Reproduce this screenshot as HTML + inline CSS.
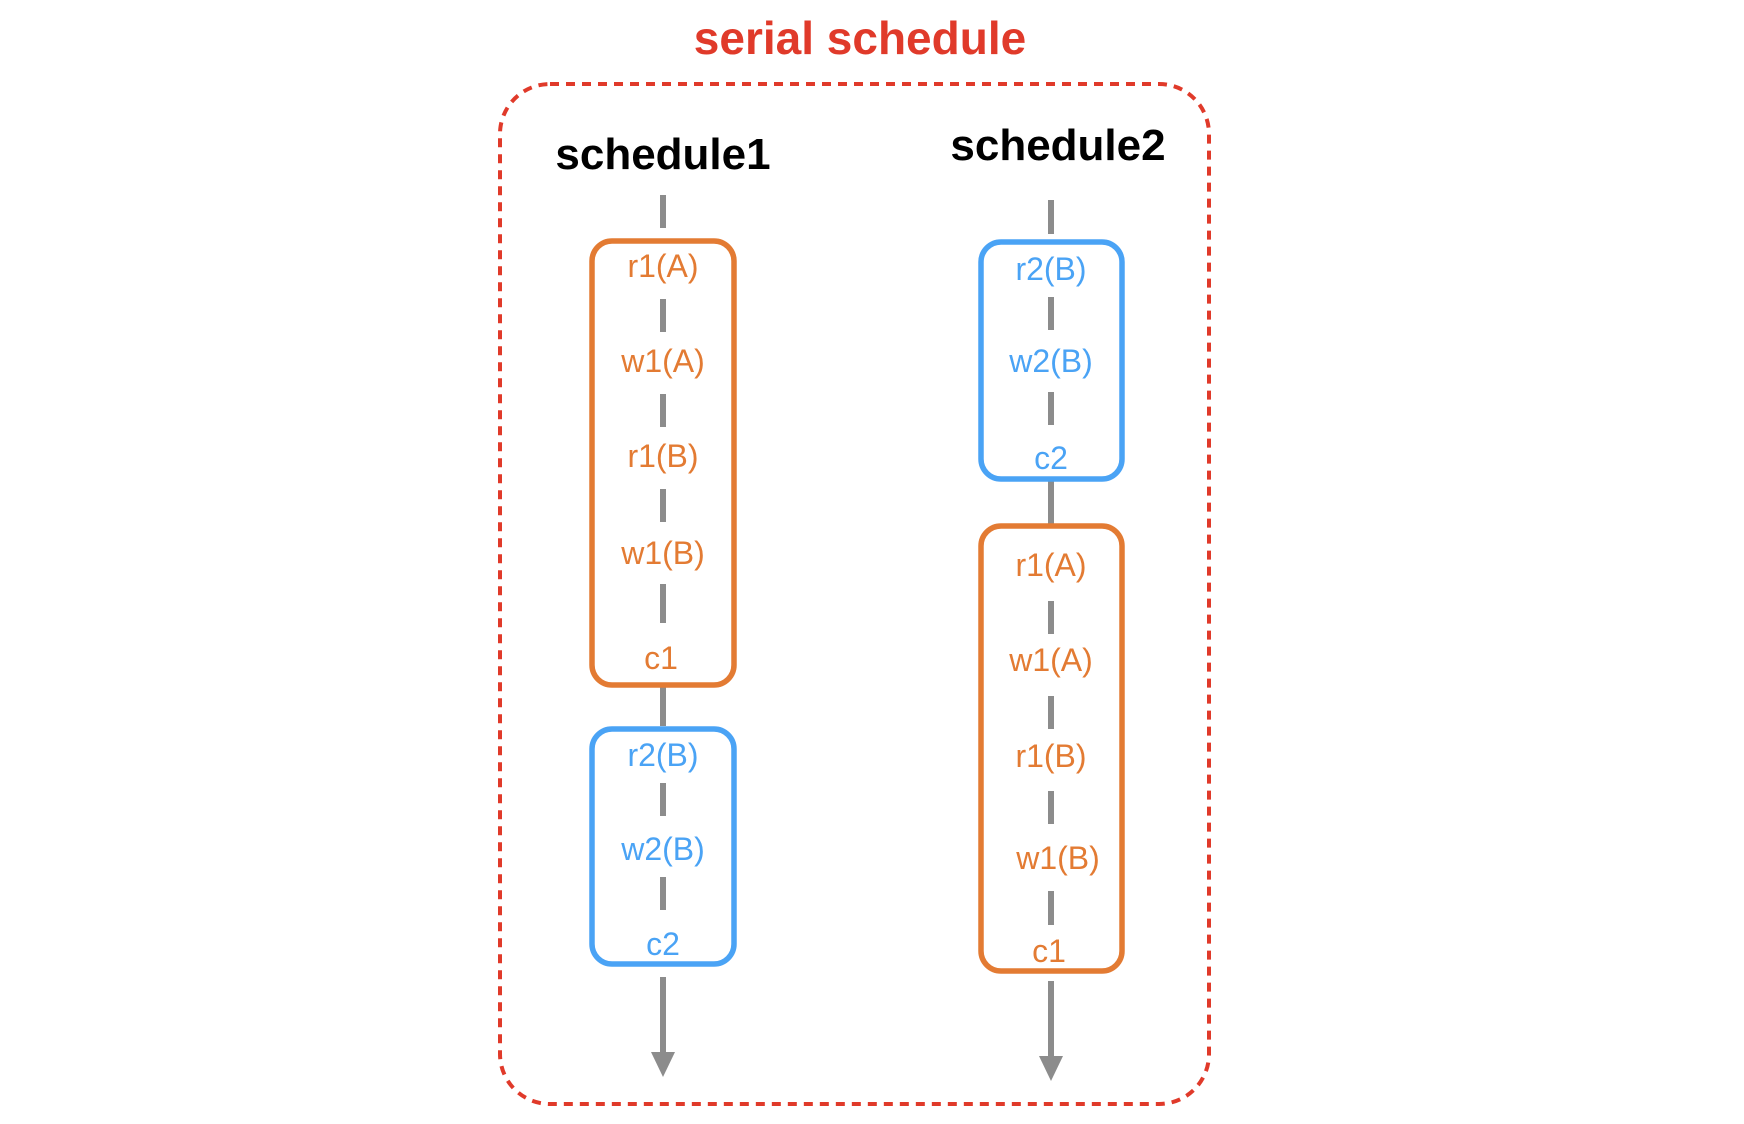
<!DOCTYPE html>
<html><head><meta charset="utf-8"><style>
html,body{margin:0;padding:0;background:#fff;}
svg{display:block;}
text{font-family:"Liberation Sans",Arial,sans-serif;}
</style></head><body>
<svg width="1744" height="1124" viewBox="0 0 1744 1124" xmlns="http://www.w3.org/2000/svg">
<text x="860" y="54" text-anchor="middle" font-size="46" font-weight="bold" fill="#e03a2a">serial schedule</text>
<rect x="500" y="84" width="709" height="1020" rx="50" ry="50" fill="none" stroke="#e03a2a" stroke-width="4" stroke-dasharray="9 7"/>
<g transform="translate(-4,-3)">
<text x="667" y="172" text-anchor="middle" font-size="44" font-weight="bold" fill="#000">schedule1</text>
<text x="1062" y="163" text-anchor="middle" font-size="44" font-weight="bold" fill="#000">schedule2</text>

<g stroke="#8c8c8c" stroke-width="6">
<line x1="667" y1="198" x2="667" y2="231"/>
<line x1="667" y1="302" x2="667" y2="335"/>
<line x1="667" y1="397" x2="667" y2="430"/>
<line x1="667" y1="492" x2="667" y2="525"/>
<line x1="667" y1="587" x2="667" y2="626"/>
<line x1="667" y1="688" x2="667" y2="729"/>
<line x1="667" y1="786" x2="667" y2="819"/>
<line x1="667" y1="880" x2="667" y2="913"/>
<line x1="667" y1="980" x2="667" y2="1058"/>

<line x1="1055" y1="203" x2="1055" y2="237"/>
<line x1="1055" y1="300" x2="1055" y2="333"/>
<line x1="1055" y1="395" x2="1055" y2="428"/>
<line x1="1055" y1="482" x2="1055" y2="528"/>
<line x1="1055" y1="604" x2="1055" y2="637"/>
<line x1="1055" y1="699" x2="1055" y2="732"/>
<line x1="1055" y1="794" x2="1055" y2="827"/>
<line x1="1055" y1="894" x2="1055" y2="928"/>
<line x1="1055" y1="984" x2="1055" y2="1062"/>
</g>
<polygon points="655,1055 679,1055 667,1080" fill="#8c8c8c"/>
<polygon points="1043,1059 1067,1059 1055,1084" fill="#8c8c8c"/>

<rect x="596" y="244" width="142" height="444" rx="20" fill="none" stroke="#e37b33" stroke-width="5.5"/>
<rect x="596" y="732" width="142" height="235" rx="20" fill="none" stroke="#4aa3f5" stroke-width="5.5"/>
<rect x="985" y="245" width="141" height="237" rx="20" fill="none" stroke="#4aa3f5" stroke-width="5.5"/>
<rect x="985" y="529" width="141" height="445" rx="20" fill="none" stroke="#e37b33" stroke-width="5.5"/>

<g font-size="32" text-anchor="middle" dominant-baseline="central">
<g fill="#e37b33">
<text x="667" y="269">r1(A)</text>
<text x="667" y="364">w1(A)</text>
<text x="667" y="459">r1(B)</text>
<text x="667" y="556">w1(B)</text>
<text x="665" y="661">c1</text>
<text x="1055" y="568">r1(A)</text>
<text x="1055" y="663">w1(A)</text>
<text x="1055" y="759">r1(B)</text>
<text x="1062" y="861">w1(B)</text>
<text x="1053" y="954">c1</text>
</g>
<g fill="#4aa3f5">
<text x="667" y="758">r2(B)</text>
<text x="667" y="852">w2(B)</text>
<text x="667" y="947">c2</text>
<text x="1055" y="272">r2(B)</text>
<text x="1055" y="364">w2(B)</text>
<text x="1055" y="461">c2</text>
</g>
</g>
</g>
</svg>
</body></html>
